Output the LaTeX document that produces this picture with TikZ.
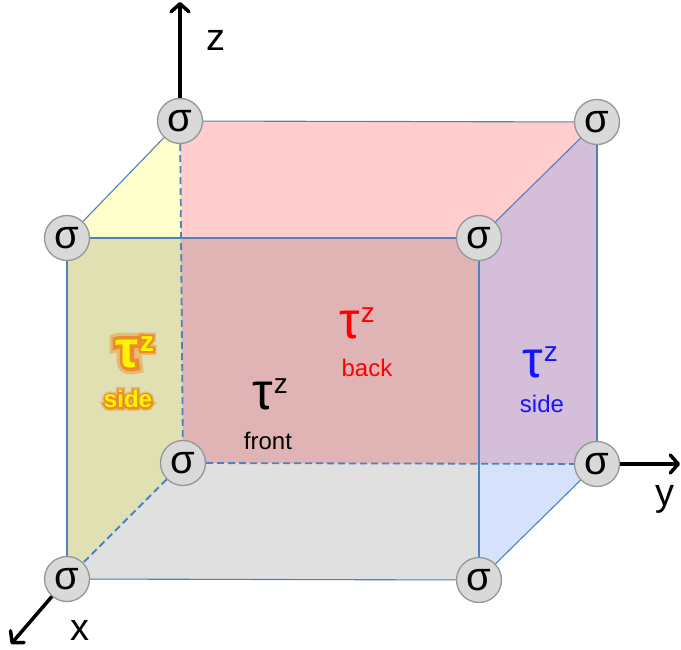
\documentclass[tikz,border=0pt]{standalone}
\usepackage{fontspec}
\setmainfont{Liberation Sans}
\newfontface\glowface[FakeBold=14]{Liberation Sans Bold}
\newfontface\glowfacewide[FakeBold=26]{Liberation Sans Bold}
\usetikzlibrary{arrows.meta,backgrounds}
\definecolor{edgeblue}{RGB}{79,129,189}
\definecolor{backpink}{RGB}{255,205,205}
\definecolor{sideyellow}{RGB}{255,255,204}
\definecolor{sideblue}{RGB}{118,158,245}
\definecolor{sigfill}{RGB}{217,217,217}
\definecolor{sigdraw}{RGB}{150,150,150}
\definecolor{glowcol}{RGB}{236,140,40}
\definecolor{tyellow}{RGB}{255,245,0}
\definecolor{tred}{RGB}{255,0,0}
\definecolor{tblue}{RGB}{20,20,255}
\newcommand\tauz{{\fontsize{52}{52}\selectfont τ}\kern1pt\raisebox{16pt}{\fontsize{28}{28}\selectfont z}}
\newcommand\tauzb{{\fontsize{52}{52}\selectfont\bfseries τ}\kern1pt\raisebox{16pt}{\fontsize{28}{28}\selectfont\bfseries z}}
\newcommand\tauzg{{\fontsize{52}{52}\selectfont\glowface τ}\kern1pt\raisebox{16pt}{\fontsize{28}{28}\selectfont\glowface z}}
\newcommand\tauzgw{{\fontsize{52}{52}\selectfont\glowfacewide τ}\kern1pt\raisebox{16pt}{\fontsize{28}{28}\selectfont\glowfacewide z}}
\begin{document}
\begin{tikzpicture}[x=1pt,y=-1pt,
  sig/.style={circle,minimum size=45pt,inner sep=0pt,fill=sigfill,draw=sigdraw,line width=1.3pt,font=\fontsize{40}{40}\selectfont},
  edge/.style={draw=edgeblue,line width=1.1pt},
  hidden/.style={draw=edgeblue,line width=1.8pt,dash pattern=on 7pt off 4pt},
  axis/.style={line width=3.5pt,-{Straight Barb[length=8pt,width=18pt,round]}},
  word/.style={inner sep=0pt,font=\fontsize{24}{24}\selectfont},
  axlabel/.style={inner sep=0pt,font=\fontsize{38}{38}\selectfont},
  lab/.style={inner sep=0pt}]
\useasboundingbox (0,0) rectangle (681,650);
% vertices
\node[sig] (bTL) at (180,121) {σ};
\node[sig] (bTR) at (597,122) {σ};
\node[sig] (bBL) at (183,463) {σ};
\node[sig] (bBR) at (597,464) {σ};
\node[sig] (fTL) at (67,238) {σ};
\node[sig] (fTR) at (479,238) {σ};
\node[sig] (fBL) at (67,579) {σ};
\node[sig] (fBR) at (479,580) {σ};
\begin{pgfonlayer}{background}
  \fill[backpink] (bTL.center) -- (bTR.center) -- (bBR.center) -- (bBL.center) -- cycle;
  \fill[sideyellow] (fTL.center) -- (bTL.center) -- (bBL.center) -- (fBL.center) -- cycle;
  \fill[sideblue,fill opacity=0.3] (fTR.center) -- (bTR.center) -- (bBR.center) -- (fBR.center) -- cycle;
  \fill[black,fill opacity=0.12] (fTL.center) rectangle (fBR.center);
  % hidden edges
  \draw[hidden] (bTL) -- (bBL);
  \draw[hidden] (bBL) -- (bBR);
  \draw[hidden] (bBL) -- (fBL);
  % visible edges
  \draw[edge] (fTL) -- (fTR);
  \draw[edge] (fTR) -- (fBR);
  \draw[edge] (fBR) -- (fBL);
  \draw[edge] (fBL) -- (fTL);
  \draw[edge] (bTL) -- (bTR);
  \draw[edge] (bTR) -- (bBR);
  \draw[edge] (fTL) -- (bTL);
  \draw[edge] (fTR) -- (bTR);
  \draw[edge] (fBR) -- (bBR);
\end{pgfonlayer}
% axes
\coordinate (zTip) at (180,2);
\coordinate (yTip) at (680,464);
\coordinate (xTip) at (11,644);
\draw[axis] (bTL) -- (zTip);
\draw[axis] (bBR) -- (yTip);
\draw[axis] (fBL) -- (xTip);
\node[axlabel] (zl) at (216,40) {z};
\node[axlabel] (yl) at (665,499) {y};
\node[axlabel] (xl) at (80,630) {x};
% labels
\node[lab] (tfront) at (270,394) {\tauz};
\node[word] (wfront) at (268,441) {front};
\node[lab,text=tred] (tback) at (357,323) {\tauz};
\node[word,text=tred] (wback) at (367,368) {back};
\node[lab,text=tblue] (tside) at (540,362) {\tauz};
\node[word,text=tblue] (wside) at (542,404) {side};
% glowing yellow label
\node[lab,text=glowcol,opacity=0.45] (tyelw) at (135,352) {\tauzgw};
\node[word,text=glowcol,opacity=0.45,font=\fontsize{24}{24}\selectfont\glowfacewide] (wyelw) at (128,399) {side};
\node[lab,text=glowcol] (tyelg) at (135,352) {\tauzg};
\node[word,text=glowcol,font=\fontsize{24}{24}\selectfont\glowface] (wyelg) at (128,399) {side};
\node[lab,text=tyellow] (tyel) at (135,352) {\tauzb};
\node[word,text=tyellow,font=\fontsize{24}{24}\selectfont\bfseries] (wyel) at (128,399) {side};
\end{tikzpicture}
\end{document}
